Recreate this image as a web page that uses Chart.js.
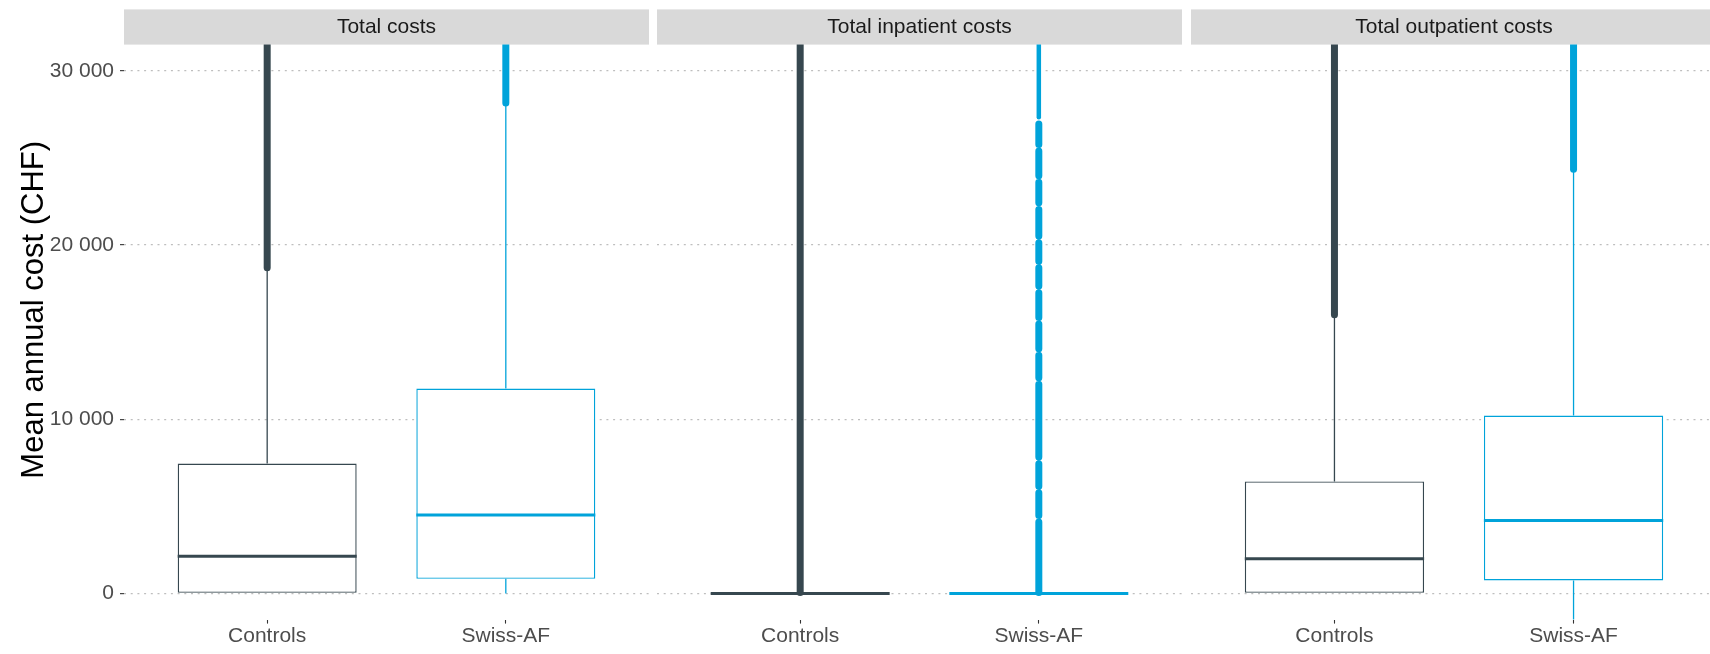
<!DOCTYPE html>
<html>
<head>
<meta charset="utf-8">
<script src="https://cdn.jsdelivr.net/npm/chart.js@4/dist/chart.umd.min.js"></script>
<style>
  html, body { margin: 0; padding: 0; background: #ffffff; }
  #figure { position: relative; width: 1710px; height: 654px; overflow: hidden; }
  #figure canvas { position: absolute; top: 0; }
</style>
</head>
<body>
<div id="figure">
  <canvas id="facet0" width="649" height="654" style="left:0px"></canvas>
  <canvas id="facet1" width="525" height="654" style="left:657px"></canvas>
  <canvas id="facet2" width="526" height="654" style="left:1191px"></canvas>
</div>
<script>
// ---- data -------------------------------------------------------------
const categories = ['Controls', 'Swiss-AF'];
const facetTitles = ['Total costs', 'Total inpatient costs', 'Total outpatient costs'];
const yTicks = [0, 10000, 20000, 30000];
const yAxisTitle = 'Mean annual cost (CHF)';

// box-plot summaries, one entry per category [Controls, Swiss-AF]
const totalLower   = [0, 0];
const totalQ1      = [0, 840];
const totalMedian  = [2140, 4500];
const totalQ3      = [7460, 11760];
const totalUpper   = [18600, 28050];

const inpatientLower  = [0, 0];
const inpatientQ1     = [0, 0];
const inpatientMedian = [0, 0];
const inpatientQ3     = [0, 0];
const inpatientUpper  = [0, 0];

const outpatientLower  = [0, -1800];
const outpatientQ1     = [0, 750];
const outpatientMedian = [1990, 4190];
const outpatientQ3     = [6430, 10210];
const outpatientUpper  = [15900, 24250];

// outliers: runs of densely overlapping points [from, to] per category
const totalOutliers = [
  [[18700, 40000]],
  [[28150, 40000]]
];
const inpatientOutliers = [
  [[60, 40000]],
  [[60, 4100], [4480, 5780], [6160, 7450], [7830, 12000], [12380, 13670],
   [14050, 15460], [15840, 17260], [17640, 18690], [19070, 20130], [20510, 22040],
   [22420, 23600], [23980, 25390], [25770, 26950]]
];
// sparser outliers near the top of the inpatient Swiss-AF column
const inpatientSparseOutliers = [
  [],
  [[27330, 40000]]
];
const outpatientOutliers = [
  [[16000, 40000]],
  [[24350, 40000]]
];

// ---- styling ----------------------------------------------------------
const groupColors = ['#36474F', '#00A3DA'];
const FONT = "'Liberation Sans', Arial, Helvetica, sans-serif";
const BOX_WIDTH = 0.75;      // box width as a share of one category step
const X_EXPAND = 0.6;        // discrete axis expansion on each side
const Y_MIN = -1500, Y_MAX = 31500;

// grey strip behind each facet title
const stripPlugin = {
  id: 'facetStrip',
  beforeDraw(chart) {
    const { ctx, chartArea, titleBlock } = chart;
    ctx.save();
    ctx.fillStyle = '#D9D9D9';
    ctx.fillRect(chartArea.left, titleBlock.top, chartArea.right - chartArea.left, chartArea.top - titleBlock.top);
    ctx.restore();
  }
};

// centre the y-axis title on the full height above the x axis
const yTitleSpanPlugin = {
  id: 'yTitleSpan',
  afterLayout(chart) {
    const scale = chart.scales.y;
    if (!scale || scale._spanPatched) return;
    const original = scale.drawTitle;
    scale.drawTitle = function () {
      const top = this.top;
      this.top = 0;
      original.call(this);
      this.top = top;
    };
    scale._spanPatched = true;
  }
};

function runsToPoints(runs, i) {
  const pts = [];
  runs.forEach(([from, to]) => {
    pts.push({ x: i, y: from }, { x: i, y: to }, { x: i, y: null });
  });
  return pts;
}

function buildDatasets(stats, outliers, sparse) {
  const sets = [];
  categories.forEach((cat, i) => {
    const color = groupColors[i];
    // box
    sets.push({
      type: 'bar',
      data: [{ x: i, y: [stats.q1[i], stats.q3[i]] }],
      backgroundColor: '#ffffff',
      borderColor: color,
      borderWidth: 1.4,
      borderSkipped: false,
      grouped: false,
      barPercentage: BOX_WIDTH,
      categoryPercentage: 1,
      clip: 0,
      order: 3
    });
    // whiskers
    sets.push({
      type: 'line',
      data: [
        { x: i, y: stats.q3[i] }, { x: i, y: stats.upper[i] }, { x: i, y: null },
        { x: i, y: stats.q1[i] }, { x: i, y: stats.lower[i] }
      ],
      borderColor: color,
      borderWidth: 1.3,
      pointRadius: 0,
      spanGaps: false,
      clip: 0,
      order: 2
    });
    // median
    sets.push({
      type: 'line',
      data: [
        { x: i - BOX_WIDTH / 2, y: stats.median[i] },
        { x: i + BOX_WIDTH / 2, y: stats.median[i] }
      ],
      borderColor: color,
      borderWidth: 3,
      pointRadius: 0,
      clip: 0,
      order: 1
    });
    // outliers
    sets.push({
      type: 'line',
      data: runsToPoints(outliers[i], i),
      borderColor: color,
      borderWidth: 7,
      borderCapStyle: 'round',
      pointRadius: 0,
      spanGaps: false,
      clip: 0,
      order: 0
    });
    if (sparse && sparse[i].length) {
      sets.push({
        type: 'line',
        data: runsToPoints(sparse[i], i),
        borderColor: color,
        borderWidth: 4.5,
        borderCapStyle: 'round',
        pointRadius: 0,
        spanGaps: false,
        clip: 0,
        order: 0
      });
    }
  });
  return sets;
}

function makeFacet(canvasId, title, stats, outliers, sparse, withYAxis) {
  const yScale = {
    type: 'linear',
    min: Y_MIN,
    max: Y_MAX,
    afterBuildTicks: (scale) => { scale.ticks = yTicks.map(v => ({ value: v })); },
    afterFit: (scale) => { scale.width = withYAxis ? 124 : 0; },
    grid: {
      color: '#BEBEBE',
      lineWidth: 1.3,
      drawTicks: withYAxis,
      tickLength: 4,
      tickColor: '#333333',
      tickWidth: 1.1,
      tickBorderDash: []
    },
    border: { display: false, dash: [2, 4.7] },
    ticks: {
      display: withYAxis,
      padding: 6,
      color: '#4D4D4D',
      font: { family: FONT, size: 21 },
      callback: (v) => String(v).replace(/\B(?=(\d{3})+(?!\d))/g, ' ')
    },
    title: {
      display: withYAxis,
      text: yAxisTitle,
      color: '#000000',
      font: { family: FONT, size: 31 },
      padding: { top: 16, bottom: 0 }
    }
  };

  return new Chart(document.getElementById(canvasId), {
    type: 'bar',
    data: { datasets: buildDatasets(stats, outliers, sparse) },
    options: {
      responsive: false,
      animation: false,
      events: [],
      devicePixelRatio: 1,
      layout: { padding: { top: 9.4, bottom: 5.2, left: 0, right: 0 } },
      plugins: {
        legend: { display: false },
        tooltip: { enabled: false },
        title: {
          display: true,
          text: title,
          fullSize: false,
          color: '#1A1A1A',
          font: { family: FONT, size: 21, weight: 'normal' },
          padding: { top: 5, bottom: 5 }
        }
      },
      scales: {
        x: {
          type: 'linear',
          min: -X_EXPAND,
          max: categories.length - 1 + X_EXPAND,
          offset: false,
          afterBuildTicks: (scale) => { scale.ticks = categories.map((_, i) => ({ value: i })); },
          grid: {
            display: true,
            offset: false,
            drawOnChartArea: false,
            drawTicks: true,
            tickLength: 4,
            tickColor: '#333333',
            tickWidth: 1.1
          },
          border: { display: false },
          ticks: {
            padding: 0,
            color: '#4D4D4D',
            font: { family: FONT, size: 21 },
            maxRotation: 0,
            autoSkip: false,
            callback: (v) => categories[v]
          }
        },
        y: yScale
      }
    },
    plugins: [stripPlugin, yTitleSpanPlugin]
  });
}

makeFacet('facet0', facetTitles[0],
  { lower: totalLower, q1: totalQ1, median: totalMedian, q3: totalQ3, upper: totalUpper },
  totalOutliers, null, true);
makeFacet('facet1', facetTitles[1],
  { lower: inpatientLower, q1: inpatientQ1, median: inpatientMedian, q3: inpatientQ3, upper: inpatientUpper },
  inpatientOutliers, inpatientSparseOutliers, false);
makeFacet('facet2', facetTitles[2],
  { lower: outpatientLower, q1: outpatientQ1, median: outpatientMedian, q3: outpatientQ3, upper: outpatientUpper },
  outpatientOutliers, null, false);
</script>
</body>
</html>
